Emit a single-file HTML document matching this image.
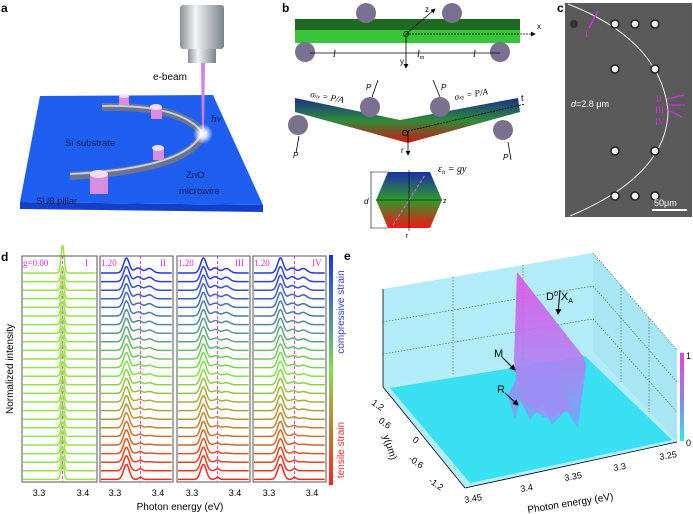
<!DOCTYPE html>
<html><head><meta charset="utf-8"><style>
body{margin:0;background:#fff;width:693px;height:514px;overflow:hidden}
svg{display:block;font-family:"Liberation Sans",sans-serif}
</style></head><body>
<svg id="s" width="693" height="514" viewBox="0 0 693 514" xmlns="http://www.w3.org/2000/svg">
<defs>
<linearGradient id="lens" x1="0" x2="1"><stop offset="0" stop-color="#8a8f96"/><stop offset=".35" stop-color="#f2f4f6"/><stop offset="1" stop-color="#7c828a"/></linearGradient>
<linearGradient id="bent" x1="0" y1="0" x2="0" y2="1"><stop offset="0" stop-color="#1a2f8a"/><stop offset=".5" stop-color="#2f8a3a"/><stop offset="1" stop-color="#d01818"/></linearGradient>
<linearGradient id="hex" x1="0" y1="0" x2="0" y2="1"><stop offset="0" stop-color="#1a2fa8"/><stop offset=".5" stop-color="#2f9a2a"/><stop offset="1" stop-color="#f01818"/></linearGradient>
<linearGradient id="cbar" x1="0" y1="0" x2="0" y2="1"><stop offset="0" stop-color="#1830ff"/><stop offset=".5" stop-color="#7ee050"/><stop offset="1" stop-color="#ff2020"/></linearGradient>
<linearGradient id="cbe" x1="0" y1="0" x2="0" y2="1"><stop offset="0" stop-color="#f040e0"/><stop offset=".5" stop-color="#8a80f0"/><stop offset="1" stop-color="#30e8f0"/></linearGradient>
<linearGradient id="peak" x1="0" y1="0" x2="0" y2="1"><stop offset="0" stop-color="#e050e8"/><stop offset=".6" stop-color="#b080f0"/><stop offset="1" stop-color="#70a8f8"/></linearGradient>
<radialGradient id="glow"><stop offset="0" stop-color="#fff"/><stop offset=".4" stop-color="#fff" stop-opacity=".8"/><stop offset="1" stop-color="#fff" stop-opacity="0"/></radialGradient>
<marker id="ar" markerWidth="6" markerHeight="6" refX="5" refY="3" orient="auto"><path d="M0,0L6,3L0,6z" fill="#000"/></marker>
</defs>

<!-- panel a -->
<text x="1" y="12" font-size="12" font-weight="bold">a</text>
<polygon points="20,202 263,205 263,212 20,209" fill="#1240c8"/>
<polygon points="40,96 213,95 263,205 20,202" fill="#1e5ef0"/>
<path d="M102,107 Q180,105 203,133 Q190,170 70,176" fill="none" stroke="#6a7390" stroke-width="8"/>
<path d="M102,106 Q180,104 202,132 Q189,168 70,174" fill="none" stroke="#c8ccd8" stroke-width="2"/>
<g fill="#d88ee0"><rect x="119" y="95" width="10" height="10"/><rect x="151" y="107" width="11" height="12"/><rect x="153" y="148" width="11" height="12"/><rect x="90" y="173" width="18" height="21"/></g>
<g fill="#f4dcf6"><ellipse cx="124" cy="96" rx="5" ry="2"/><ellipse cx="156" cy="107" rx="6" ry="3"/><ellipse cx="158" cy="148" rx="6" ry="3"/><ellipse cx="99" cy="174" rx="9" ry="4"/></g>
<rect x="180" y="5" width="44" height="44" fill="url(#lens)" rx="3"/>
<rect x="188" y="49" width="28" height="14" fill="url(#lens)"/>
<polygon points="201,63 205,63 204,132 202,132" fill="#d080f0"/>
<circle cx="203" cy="134" r="10" fill="url(#glow)"/>
<text x="153" y="80" font-size="10">e-beam</text>
<text x="211" y="122" font-size="11" font-style="italic" font-family="Liberation Serif,serif" fill="#102040">hν</text>
<text x="65" y="146" font-size="9.5" fill="#0a1a50">Si substrate</text>
<text x="186" y="178" font-size="9.5" fill="#0a1a50">ZnO</text>
<text x="179" y="194" font-size="9.5" fill="#0a1a50">microwire</text>
<text x="36" y="204" font-size="9.5" fill="#0a1a50">SU8 pillar</text>

<!-- panel b -->
<text x="282" y="12" font-size="12" font-weight="bold">b</text>
<rect x="295" y="19" width="225" height="24" fill="#3ac43a"/>
<rect x="295" y="19" width="225" height="11" fill="#1e6a20"/>
<g fill="#7a7090"><ellipse cx="366" cy="13" rx="10" ry="10"/><ellipse cx="452" cy="13" rx="10" ry="10"/><ellipse cx="305" cy="52" rx="10" ry="10"/><ellipse cx="500" cy="52" rx="10" ry="10"/></g>
<g stroke="#000" stroke-width=".8" fill="none">
<line x1="406" y1="34" x2="435" y2="9" marker-end="url(#ar)"/>
<line x1="406" y1="34" x2="530" y2="34" stroke-dasharray="2,1"/>
<line x1="530" y1="34" x2="535" y2="34" marker-end="url(#ar)"/>
<line x1="406" y1="34" x2="406" y2="68" marker-end="url(#ar)"/>
<line x1="310" y1="53" x2="500" y2="53"/>
</g>
<text x="403" y="37" font-size="8">O</text><text x="425" y="12" font-size="8">z</text><text x="537" y="29" font-size="8">x</text><text x="400" y="64" font-size="8">y</text>
<text x="333" y="57" font-size="10" font-style="italic" font-family="Liberation Serif,serif">l</text><text x="417" y="57" font-size="10" font-style="italic" font-family="Liberation Serif,serif">l<tspan font-size="6" dy="2">m</tspan></text><text x="473" y="57" font-size="10" font-style="italic" font-family="Liberation Serif,serif">l</text>
<path d="M295,98 L400,120 L518,98 L520,112 L408,143 L295,112z" fill="url(#bent)"/>
<g fill="#7a7090"><circle cx="370" cy="107" r="10"/><circle cx="440" cy="107" r="10"/><circle cx="298" cy="125" r="10"/><circle cx="503" cy="130" r="10"/></g>
<g stroke="#000" stroke-width=".8" fill="none">
<line x1="378" y1="80" x2="372" y2="97"/><line x1="433" y1="80" x2="440" y2="97"/>
<line x1="296" y1="153" x2="299" y2="136"/><line x1="511" y1="160" x2="508" y2="142"/>
<line x1="408" y1="131" x2="408" y2="155" marker-end="url(#ar)"/>
<line x1="408" y1="131" x2="525" y2="104" stroke-dasharray="2,1"/>
</g>
<text x="310" y="97" font-size="9" font-style="italic" font-family="Liberation Serif,serif" transform="rotate(10 310 97)">σ<tspan font-size="6">xy</tspan> = P/A</text>
<text x="455" y="100" font-size="9" font-style="italic" font-family="Liberation Serif,serif" transform="rotate(-10 455 100)">σ<tspan font-size="6">xy</tspan> = P/A</text>
<text x="366" y="90" font-size="8" font-style="italic">P</text><text x="441" y="90" font-size="8" font-style="italic">P</text><text x="293" y="158" font-size="8" font-style="italic">P</text><text x="503" y="160" font-size="8" font-style="italic">P</text>
<text x="402" y="136" font-size="8">O</text><text x="401" y="153" font-size="8">r</text><text x="521" y="101" font-size="9">t</text>
<polygon points="388,172 430,172 442,200 430,228 388,228 376,200" fill="url(#hex)"/>
<g stroke="#000" stroke-width=".6" fill="none"><line x1="376" y1="200" x2="442" y2="200"/><line x1="409" y1="170" x2="409" y2="231"/><line x1="370" y1="172" x2="388" y2="172"/><line x1="370" y1="228" x2="388" y2="228"/><line x1="371" y1="172" x2="371" y2="228"/></g>
<line x1="393" y1="225" x2="425" y2="175" stroke="#e070e0" stroke-width="1" stroke-dasharray="3,2"/>
<text x="438" y="172" font-size="10" font-style="italic" font-family="Liberation Serif,serif">ε<tspan font-size="6" dy="2">tt</tspan><tspan dy="-2"> = gy</tspan></text>
<text x="364" y="204" font-size="8" font-style="italic">d</text><text x="443" y="203" font-size="7">z</text><text x="406" y="238" font-size="7">r</text>

<!-- panel c -->
<text x="557" y="12" font-size="12" font-weight="bold">c</text>
<rect x="565" y="3" width="127" height="214" fill="#5a5a5a"/>
<path d="M568,4 Q660,40 668,110 Q668,175 570,216" fill="none" stroke="#eee" stroke-width="1"/>
<g fill="#f4f4f4" stroke="#222" stroke-width="1.5">
<circle cx="615" cy="24" r="4"/><circle cx="635" cy="24" r="4"/><circle cx="655" cy="24" r="4"/>
<circle cx="615" cy="69" r="4"/><circle cx="655" cy="69" r="4"/>
<circle cx="615" cy="151" r="4"/><circle cx="655" cy="151" r="4"/>
<circle cx="615" cy="196" r="4"/><circle cx="635" cy="196" r="4"/><circle cx="655" cy="196" r="4"/>
</g>
<circle cx="574" cy="24" r="4" fill="#333"/>
<line x1="589" y1="28" x2="598" y2="11" stroke="#d030e0" stroke-width="1.5"/>
<text x="585" y="37" font-size="9" fill="#d030e0" font-family="Liberation Serif,serif">I</text>
<g stroke="#d030e0" stroke-width="1.3"><line x1="684" y1="95" x2="667" y2="99"/><line x1="685" y1="105" x2="669" y2="105"/><line x1="682" y1="117" x2="668" y2="110"/></g>
<g fill="#d030e0" font-size="9" font-family="Liberation Serif,serif"><text x="656" y="102">II</text><text x="655" y="113">III</text><text x="655" y="125">IV</text></g>
<text x="571" y="107" font-size="9" fill="#fff"><tspan font-style="italic">d</tspan>=2.8 μm</text>
<line x1="652" y1="210" x2="687" y2="210" stroke="#fff" stroke-width="2"/>
<text x="654" y="206" font-size="9" fill="#fff">50μm</text>

<!-- panel d -->
<text x="1" y="261" font-size="12" font-weight="bold">d</text>
<g id="dtr"></g>
<g fill="none" stroke="#555" stroke-width="1"><rect x="22" y="256" width="75" height="226"/><rect x="100" y="256" width="73" height="226"/><rect x="177" y="256" width="73" height="226"/><rect x="253" y="256" width="73" height="226"/></g>
<rect x="329" y="255" width="4" height="230" fill="url(#cbar)"/>
<g font-size="9" fill="#d030e0" font-family="Liberation Serif,serif"><text x="23" y="266">g=0.00</text><text x="85" y="266">I</text><text x="101" y="266">1.20</text><text x="160" y="266">II</text><text x="178" y="266">1.20</text><text x="235" y="266">III</text><text x="254" y="266">1.20</text><text x="312" y="266">IV</text></g>
<g font-size="9" text-anchor="middle">
<text x="39" y="496">3.3</text><text x="83" y="496">3.4</text><text x="115" y="496">3.3</text><text x="158" y="496">3.4</text><text x="192" y="496">3.3</text><text x="235" y="496">3.4</text><text x="269" y="496">3.3</text><text x="312" y="496">3.4</text>
<text x="180" y="510" font-size="10">Photon energy (eV)</text>
<text transform="translate(13 369) rotate(-90)" font-size="10">Normalized intensity</text>
<text transform="translate(344 312) rotate(-90)" font-size="10" fill="#3040e0">compressive strain</text>
<text transform="translate(344 450) rotate(-90)" font-size="10" fill="#f03030">tensile strain</text>
</g>

<!-- panel e -->
<text x="344" y="260" font-size="12" font-weight="bold">e</text>
<polygon points="383,289 593,253 593,352 383,387" fill="#b2ecf8"/>
<polygon points="593,253 677,350 677,442 593,352" fill="#a8e6f4"/>
<polygon points="383,387 593,352 677,442 465,488" fill="#b2ecf8"/>
<polygon points="390,388 585,356 672,440 470,483" fill="#38e0f2"/>
<g stroke="#556" stroke-width=".6" stroke-dasharray="1.5,1.5" fill="none">
<line x1="453" y1="277" x2="453" y2="375"/><line x1="523" y1="265" x2="523" y2="364"/>
<line x1="383" y1="322" x2="593" y2="286"/><line x1="383" y1="354" x2="593" y2="319"/>
<line x1="621" y1="285" x2="621" y2="382"/><line x1="649" y1="318" x2="649" y2="412"/>
<line x1="593" y1="286" x2="677" y2="382"/><line x1="593" y1="319" x2="677" y2="412"/>
<line x1="593" y1="253" x2="677" y2="350"/>
</g>
<path d="M517,272 L583,356 L586,365 L578,428 L566,410 L552,425 L542,405 L530,420 L520,400 L515,420 L508,395 L516,380 L514,360z" fill="url(#peak)" opacity=".9"/>
<path d="M520,358 L560,366 L568,400 L572,410 L545,418 L520,400z" fill="#a08cf2" opacity=".8"/>
<g stroke="#000" stroke-width="1" fill="none"><line x1="560" y1="290" x2="558" y2="314" marker-end="url(#ar)"/><line x1="502" y1="357" x2="515" y2="370" marker-end="url(#ar)"/><line x1="505" y1="393" x2="518" y2="405" marker-end="url(#ar)"/></g>
<text x="546" y="300" font-size="11">D<tspan font-size="7" dy="-4">0</tspan><tspan dy="4"> X</tspan><tspan font-size="7" dy="3">A</tspan></text>
<text x="494" y="357" font-size="11">M</text><text x="497" y="393" font-size="11">R</text>
<rect x="680" y="353" width="4" height="88" fill="url(#cbe)"/>
<text x="686" y="359" font-size="9">1</text><text x="686" y="446" font-size="9">0</text>
<g font-size="9">
<text transform="translate(371 404) rotate(35)">1.2</text><text transform="translate(378 422) rotate(35)">0.6</text><text transform="translate(412 441) rotate(35)">0</text><text transform="translate(408 460) rotate(35)">-0.6</text><text transform="translate(428 482) rotate(35)">-1.2</text>
<text transform="translate(465 503) rotate(-10)">3.45</text><text transform="translate(521 492) rotate(-10)">3.4</text><text transform="translate(565 481) rotate(-10)">3.35</text><text transform="translate(614 471) rotate(-10)">3.3</text><text transform="translate(660 460) rotate(-10)">3.25</text>
<text transform="translate(528 513) rotate(-9)" font-size="10">Photon energy (eV)</text>
<text transform="translate(383 436) rotate(72)" font-size="10">y(μm)</text>
</g>
<g stroke="#000" stroke-width=".8"><line x1="383" y1="289" x2="383" y2="387"/><line x1="383" y1="387" x2="465" y2="488"/><line x1="465" y1="488" x2="677" y2="442"/></g>
</svg>
<script>
(function(){
var g=document.getElementById('dtr'),N=25,out='';
function col(t){
 var stops=[[0,[40,50,230]],[0.5,[130,225,70]],[1,[245,40,30]]];
 var a=t<0.5?stops[0]:stops[1],b=t<0.5?stops[1]:stops[2],u=(t-a[0])/(b[0]-a[0]);
 return 'rgb('+a[1].map(function(v,i){return Math.round(v+(b[1][i]-v)*u)}).join(',')+')';}
function gs(x,m,s){return Math.exp(-(x-m)*(x-m)/(2*s*s));}
var panels=[[22,75,39,true],[100,73,115,false],[177,73,192,false],[253,73,269,false]];
panels.forEach(function(p){
 var x0=p[0],w=p[1],x33=p[2];
 var dl=p[3]?x33+23.5:x33+25.5;
 out+='<line x1="'+dl+'" y1="256" x2="'+dl+'" y2="482" stroke="#e040e0" stroke-dasharray="3,2" stroke-width="1"/>';
 for(var i=0;i<N;i++){
  var t=i/(N-1),by=273+i*8.6,d='';
  for(var px=x0+1;px<=x0+w-1;px+=0.7){
   var e=3.3+(px-x33)/440,h;
   if(p[3]) h=(i==0?28:15)*gs(e,3.3535,0.0035);
   else h=15*gs(e,3.326,0.0065)+(1-t)*(5*gs(e,3.352,0.008)+4.5*gs(e,3.378,0.008))+2*gs(e,3.358,0.004)*t;
   d+=(d?'L':'M')+px.toFixed(1)+','+(by-h).toFixed(1);
  }
  out+='<path d="'+d+'" fill="none" stroke="'+(p[3]?'#9ce048':col(t))+'" stroke-width="1.5"/>';
 }
});
g.innerHTML=out;
})();
</script>
</body></html>
